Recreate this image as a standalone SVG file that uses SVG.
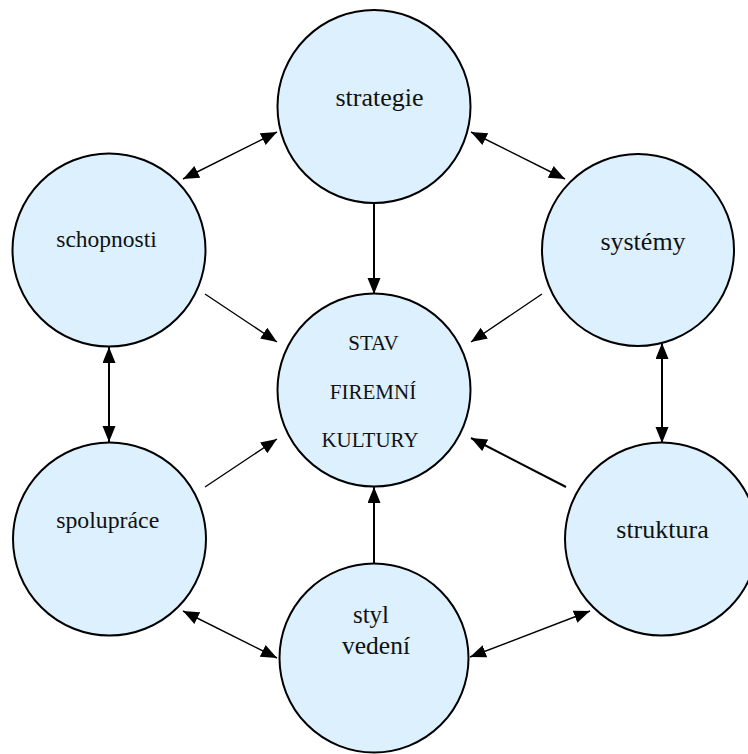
<svg xmlns="http://www.w3.org/2000/svg" width="748" height="754" viewBox="0 0 748 754">
  <style>
    .node { fill: #DDF0FE; stroke: #000; stroke-width: 2; }
    .lbl { fill: #111; text-anchor: middle; }
    .edge { stroke: #000; stroke-width: 1.4; fill: none; }
    .thick { stroke-width: 2; }
    .one { marker-end: url(#head); }
    .two { marker-start: url(#head); marker-end: url(#head); }
  </style>
  <defs>
    <marker id="head" markerUnits="userSpaceOnUse" markerWidth="17" markerHeight="14" refX="16" refY="6.5" orient="auto-start-reverse">
      <path d="M0,0 L16,6.5 L0,13 z" fill="#000"/>
    </marker>
  </defs>
  <rect width="748" height="754" fill="#fff"/>

  <g id="connectors">
    <line class="edge two" x1="183" y1="179" x2="277" y2="132"/>
    <line class="edge two" x1="471" y1="132" x2="565" y2="179"/>
    <line class="edge thick one" x1="374" y1="199" x2="374" y2="294"/>
    <line class="edge one" x1="205" y1="294" x2="277" y2="342"/>
    <line class="edge one" x1="542" y1="294" x2="471" y2="342"/>
    <line class="edge thick two" x1="109" y1="347" x2="109" y2="442"/>
    <line class="edge thick two" x1="662" y1="343" x2="662" y2="443"/>
    <line class="edge one" x1="205" y1="487" x2="277" y2="439"/>
    <line class="edge thick one" x1="566" y1="487" x2="471" y2="438"/>
    <line class="edge thick one" x1="374" y1="564" x2="374" y2="487"/>
    <line class="edge two" x1="183" y1="611" x2="277" y2="658"/>
    <line class="edge two" x1="470" y1="657" x2="590" y2="611"/>
  </g>

  <g font-family="Liberation Serif, DejaVu Serif, serif">
    <g id="strategie">
      <circle class="node" cx="374" cy="106.5" r="96.5"/>
      <text class="lbl" x="379.5" y="106" font-size="26">strategie</text>
    </g>
    <g id="schopnosti">
      <circle class="node" cx="109" cy="250" r="96.5"/>
      <text class="lbl" x="106.5" y="247" font-size="23.5">schopnosti</text>
    </g>
    <g id="systemy">
      <circle class="node" cx="638" cy="250" r="96"/>
      <text class="lbl" x="643" y="250" font-size="26">systémy</text>
    </g>
    <g id="stav">
      <circle class="node" cx="374" cy="390" r="96.5"/>
      <text class="lbl" x="373.5" y="350" font-size="21">STAV</text>
      <text class="lbl" x="373" y="399" font-size="21">FIREMNÍ</text>
      <text class="lbl" x="370" y="447" font-size="21">KULTURY</text>
    </g>
    <g id="spoluprace">
      <circle class="node" cx="109.5" cy="539" r="96.5"/>
      <text class="lbl" x="107.7" y="528" font-size="23.8">spolupráce</text>
    </g>
    <g id="struktura">
      <circle class="node" cx="661.5" cy="539" r="96.5"/>
      <text class="lbl" x="662.5" y="537.7" font-size="26">struktura</text>
    </g>
    <g id="styl-vedeni">
      <circle class="node" cx="374" cy="658" r="94.5"/>
      <text class="lbl" x="371" y="623" font-size="25">styl</text>
      <text class="lbl" x="376" y="654" font-size="25.5">vedení</text>
    </g>
  </g>
</svg>
